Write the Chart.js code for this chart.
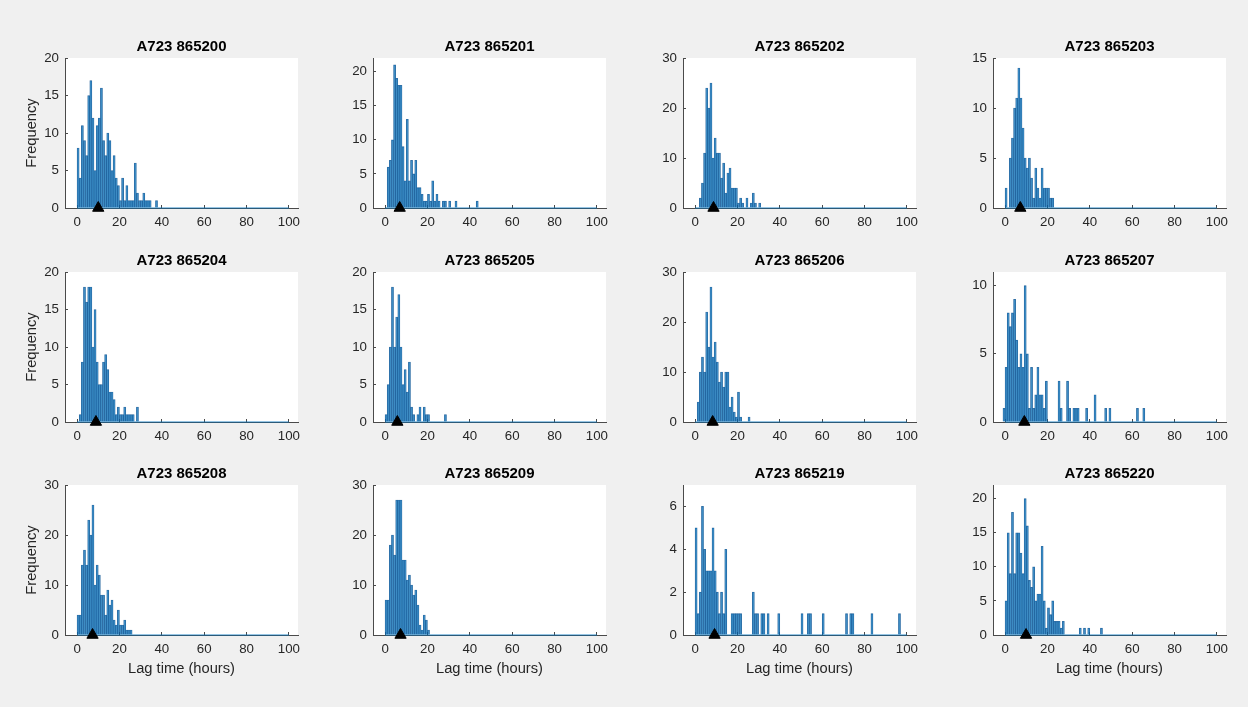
<!DOCTYPE html>
<html>
<head>
<meta charset="utf-8">
<script src="https://cdn.jsdelivr.net/npm/chart.js@4.4.1/dist/chart.umd.min.js"></script>
<style>
  html, body { margin: 0; padding: 0; background: #f0f0f0; }
  body { width: 1248px; height: 707px; position: relative; overflow: hidden; }
  canvas { position: absolute; }
</style>
</head>
<body>
<script>
// Lag-time histograms, one panel per sample (1-hour bins).
const sampleTitles = ['A723 865200', 'A723 865201', 'A723 865202', 'A723 865203',
                      'A723 865204', 'A723 865205', 'A723 865206', 'A723 865207',
                      'A723 865208', 'A723 865209', 'A723 865219', 'A723 865220'];

// Left edge (hours) of the first bin in each panel
const binStarts = [0, 1, 2, 0, 1, 0, 1, -1, 0, 0, 0, 0];

// Counts per 1-hour bin
const counts865200 = [8,4,11,9,7,15,17,12,5,11,12,16,9,7,10,9,5,7,4,3,1,4,1,3,1,1,1,6,2,1,1,2,1,1,1,0,0,1];
const counts865201 = [6,7,10,21,19,18,18,9,4,13,4,7,5,7,3,3,2,1,1,2,1,4,1,2,1,0,1,1,0,1,0,0,1,0,0,0,0,0,0,0,0,0,1];
const counts865202 = [2,5,11,24,20,25,10,14,11,11,6,9,3,7,8,4,4,4,1,2,1,0,2,0,1,3,1,0,1];
const counts865203 = [2,0,5,7,10,11,14,11,8,5,4,5,3,1,4,2,1,4,2,2,2,1,1];
const counts865204 = [1,8,18,16,18,18,10,15,8,5,5,8,9,7,4,4,3,1,2,1,1,2,1,1,1,1,0,2];
const counts865205 = [1,5,10,18,10,14,17,10,5,7,4,8,2,1,0,1,2,0,2,1,1,0,0,0,0,0,0,0,1];
const counts865206 = [4,10,13,10,22,15,27,13,16,12,8,10,7,10,10,3,5,2,1,6,1,0,0,0,1];
const counts865207 = [1,4,8,7,8,9,6,4,5,4,10,5,1,4,1,2,4,2,2,1,3,0,0,0,0,0,3,1,0,0,3,1,0,1,1,1,0,0,0,1,0,0,0,2,0,0,0,0,1,0,1,0,0,0,0,0,0,0,0,0,0,0,0,1,0,0,1];
const counts865208 = [4,4,14,17,14,23,20,26,10,14,12,8,8,4,9,6,7,3,2,5,2,2,3,1,1,1];
const counts865209 = [7,7,18,20,16,27,27,27,15,15,11,12,10,8,9,6,2,1,4,3,1];
const counts865219 = [5,1,2,6,4,3,3,3,5,3,2,1,2,1,4,0,0,1,1,1,1,1,0,0,0,0,0,2,1,1,0,1,1,0,1,0,0,0,0,1,0,0,0,0,0,0,0,0,0,0,1,0,0,1,1,0,0,0,0,0,1,0,0,0,0,0,0,0,0,0,0,1,0,1,1,0,0,0,0,0,0,0,0,1,0,0,0,0,0,0,0,0,0,0,0,0,1];
const counts865220 = [5,15,9,18,9,15,15,12,9,20,16,8,7,10,5,6,6,13,5,1,4,3,5,2,2,2,1,2,0,0,0,0,0,0,0,1,0,1,0,1,0,0,0,0,0,1];

const sampleCounts = [counts865200, counts865201, counts865202, counts865203,
                      counts865204, counts865205, counts865206, counts865207,
                      counts865208, counts865209, counts865219, counts865220];

// Median lag time (hours), marked with a triangle on the axis
const medianLags = [10.0, 6.9, 8.7, 7.2, 8.9, 5.8, 8.3, 9.1, 7.3, 7.3, 9.2, 9.9];

// Frequency axis: upper limit and tick step per panel
const yLimits = [20, 22, 30, 15, 20, 20, 30, 11, 30, 30, 7, 22];
const ySteps  = [5, 5, 10, 5, 5, 5, 10, 5, 10, 10, 2, 5];

const xTickValues = [0, 20, 40, 60, 80, 100];
const binRange = [0, 100];

// Layout of the 3 x 4 grid (plot-area corners in page pixels)
const colLefts = [65, 373, 683, 993];
const rowTops = [58, 272, 485];
const plotW = 233, plotH = 150;
const yBoxW = 50, titleBoxH = 30, xBoxH = 45, rightPad = 20;

const TEXT = '#262626';
const AXIS = '#4a4a4a';
const FONT = "'Liberation Sans', Arial, Helvetica, sans-serif";
Chart.defaults.font.family = FONT;
Chart.defaults.color = TEXT;

const plotBackground = {
  id: 'plotBackground',
  beforeDraw(chart) {
    const a = chart.chartArea, ctx = chart.ctx;
    ctx.save();
    ctx.fillStyle = '#ffffff';
    ctx.fillRect(a.left, a.top, a.right - a.left, a.bottom - a.top);
    ctx.restore();
  }
};

sampleTitles.forEach((title, idx) => {
  const row = Math.floor(idx / 4), col = idx % 4;
  const canvas = document.createElement('canvas');
  const w = yBoxW + plotW + rightPad, h = titleBoxH + plotH + xBoxH;
  canvas.width = w; canvas.height = h;
  canvas.style.width = w + 'px'; canvas.style.height = h + 'px';
  canvas.style.left = (colLefts[col] - yBoxW) + 'px';
  canvas.style.top = (rowTops[row] - titleBoxH) + 'px';
  document.body.appendChild(canvas);

  const start = binStarts[idx];
  const bars = sampleCounts[idx].map((c, i) => ({ x: start + i + 0.5, y: c }));
  const yTicks = [];
  for (let v = 0; v <= yLimits[idx]; v += ySteps[idx]) yTicks.push(v);

  new Chart(canvas, {
    type: 'bar',
    data: {
      datasets: [
        {
          type: 'line',
          data: [{ x: medianLags[idx], y: 0 }],
          showLine: false,
          pointStyle: 'triangle',
          pointRadius: 6.5,
          backgroundColor: '#000000',
          borderColor: '#000000',
          borderWidth: 1,
          clip: false,
          order: 0
        },
        {
          type: 'line',
          data: binRange.map(v => ({ x: v, y: 0 })),
          borderColor: 'rgba(0,114,189,0.55)',
          borderWidth: 1.5,
          pointRadius: 0,
          clip: false,
          order: 1
        },
        {
          type: 'bar',
          data: bars,
          backgroundColor: 'rgba(0,114,189,0.6)',
          borderColor: 'rgba(20,80,140,0.8)',
          borderWidth: 0.5,
          borderSkipped: 'start',
          barPercentage: 1,
          categoryPercentage: 1,
          order: 2
        }
      ]
    },
    options: {
      responsive: false,
      animation: false,
      events: [],
      layout: { padding: { left: 0, right: rightPad, top: 0, bottom: 0 } },
      plugins: {
        legend: { display: false },
        tooltip: { enabled: false },
        title: {
          display: true,
          fullSize: false,
          text: title,
          color: '#000000',
          font: { family: FONT, size: 15, weight: 'bold', lineHeight: 1.2 },
          padding: { top: 10, bottom: 2 }
        }
      },
      scales: {
        x: {
          type: 'linear',
          min: -5.7,
          max: 104.3,
          offset: false,
          afterBuildTicks: s => { s.ticks = xTickValues.map(v => ({ value: v })); },
          afterFit: s => { s.height = xBoxH; },
          grid: { display: true, offset: false, drawOnChartArea: false, drawTicks: true, tickLength: -3, color: AXIS, lineWidth: 1 },
          border: { display: true, color: AXIS, width: 1 },
          ticks: { padding: 9, autoSkip: false, maxRotation: 0, color: TEXT, font: { family: FONT, size: 13.3 } },
          title: {
            display: row === 2,
            text: 'Lag time (hours)',
            color: TEXT,
            font: { family: FONT, size: 14.7 },
            padding: { top: 0, bottom: 2 }
          }
        },
        y: {
          min: 0,
          max: yLimits[idx],
          afterBuildTicks: s => { s.ticks = yTicks.map(v => ({ value: v })); },
          afterFit: s => { s.width = yBoxW; },
          grid: { display: true, drawOnChartArea: false, drawTicks: true, tickLength: -3, color: AXIS, lineWidth: 1 },
          border: { display: true, color: AXIS, width: 1 },
          ticks: { padding: 9, color: TEXT, font: { family: FONT, size: 13.3 } },
          title: {
            display: col === 0,
            text: 'Frequency',
            color: TEXT,
            font: { family: FONT, size: 14.7 },
            padding: { top: 8, bottom: 0 }
          }
        }
      }
    },
    plugins: [plotBackground]
  });
});
</script>
</body>
</html>
